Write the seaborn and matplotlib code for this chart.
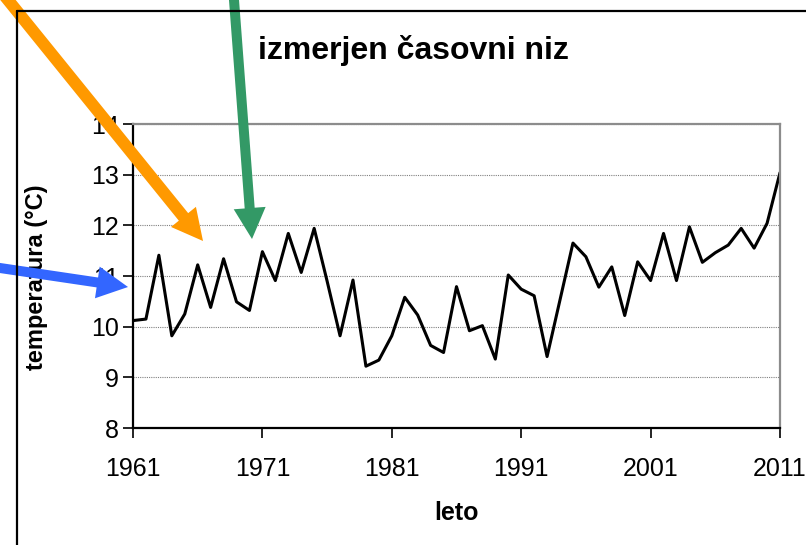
import matplotlib
matplotlib.use("Agg")
import matplotlib.pyplot as plt
import seaborn as sns
import pandas as pd
import numpy as np
from matplotlib.patches import FancyArrow
from matplotlib.lines import Line2D
from matplotlib.transforms import IdentityTransform

years = list(range(1961, 2012))
temps = [10.12, 10.15, 11.41, 9.82, 10.25, 11.22, 10.38, 11.34, 10.49, 10.32,
         11.48, 10.91, 11.84, 11.07, 11.94, 10.90, 9.82, 10.92, 9.22, 9.34,
         9.82, 10.58, 10.23, 9.63, 9.49, 10.79, 9.92, 10.02, 9.36, 11.02,
         10.74, 10.61, 9.41, 10.53, 11.65, 11.38, 10.78, 11.18, 10.22, 11.28,
         10.91, 11.84, 10.91, 11.97, 11.27, 11.46, 11.61, 11.94, 11.55, 12.04,
         13.04]
x_ticks = [1961, 1971, 1981, 1991, 2001, 2011]
y_ticks = [8, 9, 10, 11, 12, 13, 14]
title = "izmerjen časovni niz"
xlabel = "leto"
ylabel = "temperatura (°C)"

sns.set_theme(style="white")
plt.rcParams['font.family'] = ['Liberation Sans', 'DejaVu Sans']

W, H = 806, 545
fig = plt.figure(figsize=(W / 100, H / 100), dpi=100)
ax = fig.add_axes([133 / W, 1 - 428 / H, (780 - 133) / W, (428 - 124) / H])

df = pd.DataFrame({"leto": years, "temp": temps})
sns.lineplot(data=df, x="leto", y="temp", color="black", linewidth=2.2, ax=ax)

ax.set_xlim(1961, 2011)
ax.set_ylim(8, 14)
ax.set_xticks(x_ticks)
ax.set_yticks(y_ticks)
ax.set_xticklabels([str(v) for v in x_ticks])
ax.set_yticklabels([str(v) for v in y_ticks])
ax.grid(axis="y", color="#808080", linestyle=(0, (1, 1)), linewidth=0.8)
ax.grid(axis="x", visible=False)
ax.set_axisbelow(True)

for s in ["left", "bottom"]:
    ax.spines[s].set_color("black")
    ax.spines[s].set_linewidth(1.6)
for s in ["top", "right"]:
    ax.spines[s].set_color("#8c8c8c")
    ax.spines[s].set_linewidth(1.6)

ax.tick_params(axis="both", which="major", direction="out", length=7, width=1.2,
               color="black", labelsize=18, labelcolor="black", left=True, bottom=True)
ax.tick_params(axis="y", pad=3)
ax.tick_params(axis="x", pad=14)

ax.set_xlabel(xlabel, fontsize=18, fontweight="bold", color="black")
ax.set_ylabel(ylabel, fontsize=17, fontweight="bold", color="black")
ax.xaxis.set_label_coords(0.5, -0.24)
ax.yaxis.set_label_coords(-0.131, 0.497)

fig.text(413 / W, 1 - 50 / H, title, ha="center", va="center",
         fontsize=23, fontweight="bold", color="black")

# outer frame lines
fig.add_artist(Line2D([17 / W, 1.0], [1 - 11 / H, 1 - 11 / H], color="black",
                      linewidth=1.6, transform=fig.transFigure))
fig.add_artist(Line2D([17 / W, 17 / W], [1 - 11 / H, 0.0], color="black",
                      linewidth=1.6, transform=fig.transFigure))

# arrows (in pixel coordinates, image y downward -> convert)
def add_arrow(tail, tip, color, width, extend=40):
    tx, ty = tail
    px, py = tip
    d = np.hypot(px - tx, py - ty)
    ux, uy = (px - tx) / d, (py - ty) / d
    tx -= ux * extend
    ty -= uy * extend
    x0, y0 = tx, H - ty
    dx, dy = px - tx, -(py - ty)
    arr = FancyArrow(x0, y0, dx, dy, width=width, head_width=32, head_length=31,
                     length_includes_head=True, color=color, linewidth=0,
                     transform=IdentityTransform())
    fig.add_artist(arr)

add_arrow((8, 0), (203, 241), "#FF9900", 12)
add_arrow((234, 0), (252, 239), "#339966", 10)
add_arrow((0, 268), (128, 287), "#3366FF", 10)

fig.savefig("out.png", dpi=100)
